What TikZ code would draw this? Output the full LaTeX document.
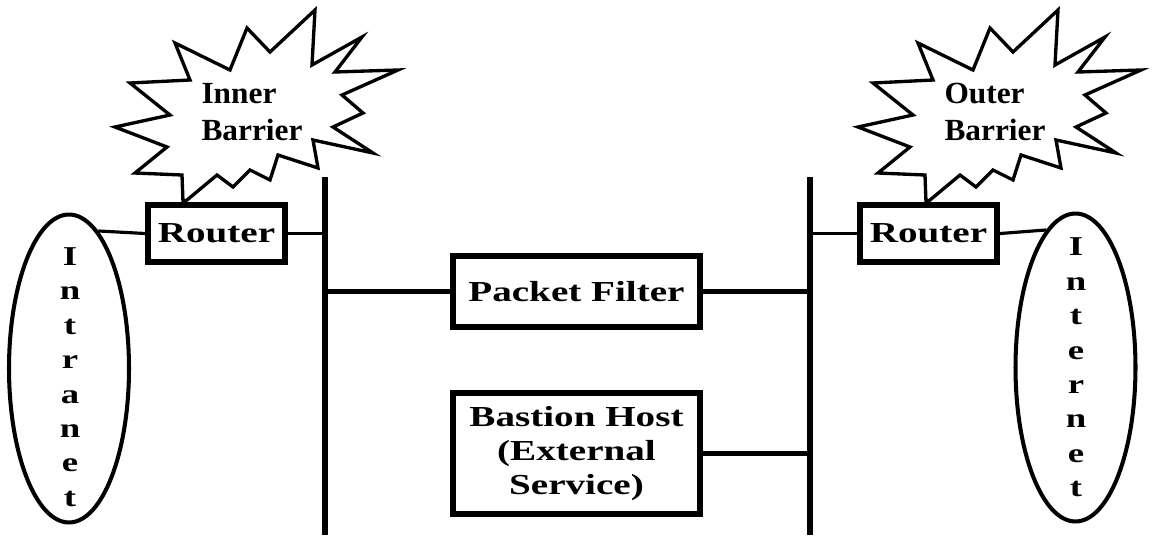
\documentclass[tikz,border=0pt]{standalone}
\usepackage{fontspec}
\setmainfont{Liberation Serif}
\newfontfamily\boxfont{Liberation Serif}[FakeStretch=1.35]
\newfontfamily\burstfont{Liberation Serif}[FakeStretch=1.02]
\usetikzlibrary{shapes.geometric}

\begin{document}
\begin{tikzpicture}[x=0.02cm, y=-0.02cm,
        box/.style={draw, line width=3.5pt, fill=white, inner sep=0pt, align=center,
                    font=\boxfont\bfseries\fontsize{16.5}{19.6}\selectfont},
        net/.style={draw, ellipse, line width=2.3pt, inner sep=0pt,
                    minimum width=2.4cm, minimum height=6.16cm},
        letters/.style={align=center, inner sep=0pt,
                    font=\boxfont\bfseries\fontsize{15.5}{19.6}\selectfont},
        tag/.style={align=left, inner sep=0pt,
                    font=\burstfont\bfseries\fontsize{17.5}{21}\selectfont},
        bus/.style={line width=3.2pt},
        link/.style={line width=1.8pt},
        wide link/.style={line width=3.2pt},
        barrier/.pic={\draw[line width=1.9pt] (-69,90) -- (-70,63) -- (-117,61) -- (-85,35)
            -- (-137,15) -- (-82,3) -- (-122,-29) -- (-62,-32) -- (-77,-69) -- (-22,-42)
            -- (-5,-84) -- (18,-60) -- (63,-102) -- (60,-47) -- (110,-75) -- (83,-40)
            -- (146,-42) -- (90,-17) -- (111,1) -- (81,15) -- (121,41) -- (61,28)
            -- (66,56) -- (26,43) -- (18,68) -- (-2,58) -- (-19,75) -- (-35,63)
            -- (-65,88) -- cycle;}]
        \useasboundingbox (0,0) rectangle (1161,535);
        \coordinate (lbus-t) at (325,177);
        \coordinate (lbus-b) at (325,535);
        \coordinate (rbus-t) at (810,177);
        \coordinate (rbus-b) at (810,535);
        \draw[bus] (lbus-t) -- (lbus-b);
        \draw[bus] (rbus-t) -- (rbus-b);
        \node[box, minimum width=2.74cm, minimum height=1.14cm] (lrouter) at (216.5,233.5) {Router};
        \node[box, minimum width=2.74cm, minimum height=1.14cm] (rrouter) at (928.5,233.5) {Router};
        \node[box, minimum width=4.94cm, minimum height=1.42cm] (pf) at (576.5,291.5) {Packet Filter};
        \node[box, minimum width=4.94cm, minimum height=2.42cm] (bastion) at (576.5,453.5)
          {Bastion Host\\(External\\Service)};
        \node[net] (intranet) at (69,368.5) {};
        \node[net] (internet) at (1075.5,367.5) {};
        \node[letters] (intranet-txt) at (70,377) {I\\n\\t\\r\\a\\n\\e\\t};
        \node[letters] (internet-txt) at (1076,367.5) {I\\n\\t\\e\\r\\n\\e\\t};
        \node[tag] (inner) at (252,112) {Inner\\Barrier};
        \node[tag] (outer) at (995,112) {Outer\\Barrier};
        \pic at (inner) {barrier};
        \pic at (outer) {barrier};
        \draw[link] (intranet.78) -- (lrouter.west);
        \draw[link] (lrouter.east) -- (lrouter.east -| lbus-t);
        \draw[wide link] (pf.west) -- (pf.west -| lbus-t);
        \draw[wide link] (pf.east) -- (pf.east -| rbus-t);
        \draw[wide link] (bastion.east) -- (bastion.east -| rbus-t);
        \draw[link] (rrouter.west) -- (rrouter.west -| rbus-t);
        \draw[link] (rrouter.east) -- (internet.102);
      \end{tikzpicture}
\end{document}
